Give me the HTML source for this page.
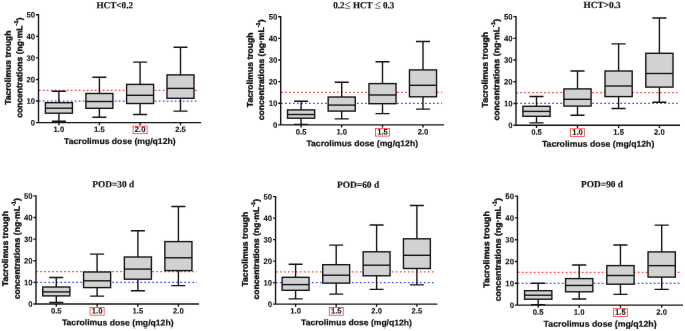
<!DOCTYPE html><html><head><meta charset="utf-8"><title>Tacrolimus trough concentrations</title><style>html,body{margin:0;padding:0;background:#fff}svg{display:block}text{font-family:"Liberation Sans",sans-serif;font-weight:bold;fill:#121212;stroke:#121212;stroke-width:0.22;stroke-linejoin:round}.le{font-weight:normal;font-size:11.5px;stroke-width:0.1}.t{font-family:"Liberation Serif",serif;font-weight:bold;fill:#151515;stroke:#151515;stroke-width:0.18}</style></head><body>
<svg width="685" height="331" viewBox="0 0 685 331">
<defs><filter id="b" x="0" y="0" width="100%" height="100%" color-interpolation-filters="sRGB"><feConvolveMatrix order="3" kernelMatrix="0.0009 0.0278 0.0009 0.0278 0.8855 0.0278 0.0009 0.0278 0.0009" divisor="1" edgeMode="duplicate" preserveAlpha="false"/></filter></defs>
<rect width="685" height="331" fill="#fff"/>
<g filter="url(#b)">
<g><text class="t" transform="rotate(0.03 96.4 8.2)" font-size="9.3" x="96.4" y="8.2" textLength="36.7" lengthAdjust="spacingAndGlyphs">HCT&lt;0.2</text><path d="M38.8 90.26H199" stroke="#ff3c3c" stroke-width="1.25" stroke-dasharray="1.7 2.3"/><path d="M38.8 101.04H199" stroke="#4444ff" stroke-width="1.25" stroke-dasharray="1.7 2.3"/><path d="M51.9 91.3H65.9M58.9 91.3V102.7M58.9 113.2V121.2M51.9 121.2H65.9" stroke="#121212" stroke-width="1.38" fill="none"/><rect x="45.4" y="102.7" width="27" height="10.5" fill="#d2d2d2" stroke="#121212" stroke-width="1.38"/><path d="M45.4 108.2H72.4" stroke="#121212" stroke-width="1.38"/><path d="M92.4 77.3H106.4M99.4 77.3V93.5M99.4 108.3V117.3M92.4 117.3H106.4" stroke="#121212" stroke-width="1.38" fill="none"/><rect x="85.9" y="93.5" width="27" height="14.8" fill="#d2d2d2" stroke="#121212" stroke-width="1.38"/><path d="M85.9 101.5H112.9" stroke="#121212" stroke-width="1.38"/><path d="M133.1 62.1H147.1M140.1 62.1V84.4M140.1 103.5V114.5M133.1 114.5H147.1" stroke="#121212" stroke-width="1.38" fill="none"/><rect x="126.6" y="84.4" width="27" height="19.1" fill="#d2d2d2" stroke="#121212" stroke-width="1.38"/><path d="M126.6 95.3H153.6" stroke="#121212" stroke-width="1.38"/><path d="M173.5 47.2H187.5M180.5 47.2V74.9M180.5 98.3V111.1M173.5 111.1H187.5" stroke="#121212" stroke-width="1.38" fill="none"/><rect x="167" y="74.9" width="27" height="23.4" fill="#d2d2d2" stroke="#121212" stroke-width="1.38"/><path d="M167 88.4H194" stroke="#121212" stroke-width="1.38"/><path d="M38.5 14.11V122.6H201.2M36 122.6H38.5M36 101.04H38.5M36 79.48H38.5M36 57.92H38.5M36 36.36H38.5M36 14.8H38.5M58.9 122.6V125.3M99.4 122.6V125.3M140.1 122.6V125.3M180.5 122.6V125.3" stroke="#121212" stroke-width="1.38" fill="none"/><text transform="rotate(0.03 30.8 125.4)" style="stroke-width:0.1" font-size="7.8" x="30.8" y="125.4" textLength="4.3" lengthAdjust="spacingAndGlyphs">0</text><text transform="rotate(0.03 26.5 103.84)" style="stroke-width:0.1" font-size="7.8" x="26.5" y="103.84" textLength="8.6" lengthAdjust="spacingAndGlyphs">10</text><text transform="rotate(0.03 26.5 82.28)" style="stroke-width:0.1" font-size="7.8" x="26.5" y="82.28" textLength="8.6" lengthAdjust="spacingAndGlyphs">20</text><text transform="rotate(0.03 26.5 60.72)" style="stroke-width:0.1" font-size="7.8" x="26.5" y="60.72" textLength="8.6" lengthAdjust="spacingAndGlyphs">30</text><text transform="rotate(0.03 26.5 39.16)" style="stroke-width:0.1" font-size="7.8" x="26.5" y="39.16" textLength="8.6" lengthAdjust="spacingAndGlyphs">40</text><text transform="rotate(0.03 26.5 17.6)" style="stroke-width:0.1" font-size="7.8" x="26.5" y="17.6" textLength="8.6" lengthAdjust="spacingAndGlyphs">50</text><text transform="rotate(0.03 53.6 132.1)" style="stroke-width:0.1" font-size="7.8" x="53.6" y="132.1" textLength="10.6" lengthAdjust="spacingAndGlyphs">1.0</text><text transform="rotate(0.03 94.1 132.1)" style="stroke-width:0.1" font-size="7.8" x="94.1" y="132.1" textLength="10.6" lengthAdjust="spacingAndGlyphs">1.5</text><text transform="rotate(0.03 134.8 132.1)" style="stroke-width:0.1" font-size="7.8" x="134.8" y="132.1" textLength="10.6" lengthAdjust="spacingAndGlyphs">2.0</text><rect x="133.1" y="126.15" width="14" height="7.6" fill="none" stroke="#ff1818" stroke-width="0.7"/><text transform="rotate(0.03 175.2 132.1)" style="stroke-width:0.1" font-size="7.8" x="175.2" y="132.1" textLength="10.6" lengthAdjust="spacingAndGlyphs">2.5</text><text transform="rotate(0.03 64.1 143.9)" font-size="8.4" x="64.1" y="143.9" textLength="111.5" lengthAdjust="spacingAndGlyphs">Tacrolimus dose (mg/q12h)</text><text style="stroke-width:0.4" font-size="8.3" transform="translate(10.75 104.85) rotate(-89.96)" textLength="74.4" lengthAdjust="spacingAndGlyphs">Tacrolimus trough</text><text style="stroke-width:0.4" font-size="8.3" transform="translate(22.15 117.85) rotate(-89.96)" textLength="100.4" lengthAdjust="spacingAndGlyphs">concentrations (ng·mL<tspan font-size="5.6" dy="-4.2">-1</tspan><tspan dy="4.2">)</tspan></text></g>
<g><text class="t" transform="rotate(0.03 333.3 8.3)" font-size="9.33" x="333.3" y="8.3" textLength="61.1" lengthAdjust="spacingAndGlyphs">0.2<tspan class="le" dy="0.2">≤</tspan><tspan dy="-0.2"> HCT </tspan><tspan class="le" dy="0.2">≤</tspan><tspan dy="-0.2"> 0.3</tspan></text><path d="M281 92.44H441.8" stroke="#ff3c3c" stroke-width="1.25" stroke-dasharray="1.7 2.3"/><path d="M281 103.26H441.8" stroke="#4444ff" stroke-width="1.25" stroke-dasharray="1.7 2.3"/><path d="M294.07 101.3H308.13M301.1 101.3V109.9M301.1 118.2V124.4M294.07 124.4H308.13" stroke="#121212" stroke-width="1.38" fill="none"/><rect x="287.55" y="109.9" width="27.1" height="8.3" fill="#d2d2d2" stroke="#121212" stroke-width="1.38"/><path d="M287.55 114.5H314.65" stroke="#121212" stroke-width="1.38"/><path d="M334.67 82.3H348.73M341.7 82.3V97M341.7 111.1V118.9M334.67 118.9H348.73" stroke="#121212" stroke-width="1.38" fill="none"/><rect x="328.15" y="97" width="27.1" height="14.1" fill="#d2d2d2" stroke="#121212" stroke-width="1.38"/><path d="M328.15 105.1H355.25" stroke="#121212" stroke-width="1.38"/><path d="M375.47 61.8H389.53M382.5 61.8V83.6M382.5 103.7V113.6M375.47 113.6H389.53" stroke="#121212" stroke-width="1.38" fill="none"/><rect x="368.95" y="83.6" width="27.1" height="20.1" fill="#d2d2d2" stroke="#121212" stroke-width="1.38"/><path d="M368.95 95H396.05" stroke="#121212" stroke-width="1.38"/><path d="M415.97 41.5H430.03M423 41.5V69.9M423 96.8V109.1M415.97 109.1H430.03" stroke="#121212" stroke-width="1.38" fill="none"/><rect x="409.45" y="69.9" width="27.1" height="26.9" fill="#d2d2d2" stroke="#121212" stroke-width="1.38"/><path d="M409.45 85.3H436.55" stroke="#121212" stroke-width="1.38"/><path d="M280.7 16.01V124.9H444M278.19 124.9H280.7M278.19 103.26H280.7M278.19 81.62H280.7M278.19 59.98H280.7M278.19 38.34H280.7M278.19 16.7H280.7M301.1 124.9V127.61M341.7 124.9V127.61M382.5 124.9V127.61M423 124.9V127.61" stroke="#121212" stroke-width="1.38" fill="none"/><text transform="rotate(0.03 272.97 127.71)" style="stroke-width:0.1" font-size="7.83" x="272.97" y="127.71" textLength="4.32" lengthAdjust="spacingAndGlyphs">0</text><text transform="rotate(0.03 268.66 106.07)" style="stroke-width:0.1" font-size="7.83" x="268.66" y="106.07" textLength="8.63" lengthAdjust="spacingAndGlyphs">10</text><text transform="rotate(0.03 268.66 84.43)" style="stroke-width:0.1" font-size="7.83" x="268.66" y="84.43" textLength="8.63" lengthAdjust="spacingAndGlyphs">20</text><text transform="rotate(0.03 268.66 62.79)" style="stroke-width:0.1" font-size="7.83" x="268.66" y="62.79" textLength="8.63" lengthAdjust="spacingAndGlyphs">30</text><text transform="rotate(0.03 268.66 41.15)" style="stroke-width:0.1" font-size="7.83" x="268.66" y="41.15" textLength="8.63" lengthAdjust="spacingAndGlyphs">40</text><text transform="rotate(0.03 268.66 19.51)" style="stroke-width:0.1" font-size="7.83" x="268.66" y="19.51" textLength="8.63" lengthAdjust="spacingAndGlyphs">50</text><text transform="rotate(0.03 295.78 134.44)" style="stroke-width:0.1" font-size="7.83" x="295.78" y="134.44" textLength="10.64" lengthAdjust="spacingAndGlyphs">0.5</text><text transform="rotate(0.03 336.38 134.44)" style="stroke-width:0.1" font-size="7.83" x="336.38" y="134.44" textLength="10.64" lengthAdjust="spacingAndGlyphs">1.0</text><text transform="rotate(0.03 377.18 134.44)" style="stroke-width:0.1" font-size="7.83" x="377.18" y="134.44" textLength="10.64" lengthAdjust="spacingAndGlyphs">1.5</text><rect x="375.47" y="128.46" width="14.05" height="7.63" fill="none" stroke="#ff1818" stroke-width="0.7"/><text transform="rotate(0.03 417.68 134.44)" style="stroke-width:0.1" font-size="7.83" x="417.68" y="134.44" textLength="10.64" lengthAdjust="spacingAndGlyphs">2.0</text><text transform="rotate(0.03 306.4 146.28)" font-size="8.43" x="306.4" y="146.28" textLength="111.7" lengthAdjust="spacingAndGlyphs">Tacrolimus dose (mg/q12h)</text><text style="stroke-width:0.4" font-size="8.33" transform="translate(252.75 107.18) rotate(-89.96)" textLength="74.77" lengthAdjust="spacingAndGlyphs">Tacrolimus trough</text><text style="stroke-width:0.4" font-size="8.33" transform="translate(264.05 120.23) rotate(-89.96)" textLength="100.87" lengthAdjust="spacingAndGlyphs">concentrations (ng·mL<tspan font-size="5.62" dy="-4.22">-1</tspan><tspan dy="4.22">)</tspan></text></g>
<g><text class="t" transform="rotate(0.03 583.6 8.1)" font-size="9.37" x="583.6" y="8.1" textLength="37.1" lengthAdjust="spacingAndGlyphs">HCT&gt;0.3</text><path d="M516.3 92.62H677.8" stroke="#ff3c3c" stroke-width="1.25" stroke-dasharray="1.7 2.3"/><path d="M516.3 103.48H677.8" stroke="#4444ff" stroke-width="1.25" stroke-dasharray="1.7 2.3"/><path d="M529.45 96.5H543.55M536.5 96.5V106.3M536.5 116.3V122.9M529.45 122.9H543.55" stroke="#121212" stroke-width="1.38" fill="none"/><rect x="522.9" y="106.3" width="27.2" height="10" fill="#d2d2d2" stroke="#121212" stroke-width="1.38"/><path d="M522.9 111.4H550.1" stroke="#121212" stroke-width="1.38"/><path d="M570.45 71H584.55M577.5 71V88.9M577.5 106.1V115.3M570.45 115.3H584.55" stroke="#121212" stroke-width="1.38" fill="none"/><rect x="563.9" y="88.9" width="27.2" height="17.2" fill="#d2d2d2" stroke="#121212" stroke-width="1.38"/><path d="M563.9 99.3H591.1" stroke="#121212" stroke-width="1.38"/><path d="M611.55 43.9H625.65M618.6 43.9V71M618.6 96.6V108.5M611.55 108.5H625.65" stroke="#121212" stroke-width="1.38" fill="none"/><rect x="605" y="71" width="27.2" height="25.6" fill="#d2d2d2" stroke="#121212" stroke-width="1.38"/><path d="M605 86H632.2" stroke="#121212" stroke-width="1.38"/><path d="M652.35 18H666.45M659.4 18V53.3M659.4 87.1V102.3M652.35 102.3H666.45" stroke="#121212" stroke-width="1.38" fill="none"/><rect x="645.8" y="53.3" width="27.2" height="33.8" fill="#d2d2d2" stroke="#121212" stroke-width="1.38"/><path d="M645.8 73.5H673" stroke="#121212" stroke-width="1.38"/><path d="M516 15.91V125.2H680M513.48 125.2H516M513.48 103.48H516M513.48 81.76H516M513.48 60.04H516M513.48 38.32H516M513.48 16.6H516M536.5 125.2V127.92M577.5 125.2V127.92M618.6 125.2V127.92M659.4 125.2V127.92" stroke="#121212" stroke-width="1.38" fill="none"/><text transform="rotate(0.03 508.24 128.02)" style="stroke-width:0.1" font-size="7.86" x="508.24" y="128.02" textLength="4.33" lengthAdjust="spacingAndGlyphs">0</text><text transform="rotate(0.03 503.91 106.3)" style="stroke-width:0.1" font-size="7.86" x="503.91" y="106.3" textLength="8.66" lengthAdjust="spacingAndGlyphs">10</text><text transform="rotate(0.03 503.91 84.58)" style="stroke-width:0.1" font-size="7.86" x="503.91" y="84.58" textLength="8.66" lengthAdjust="spacingAndGlyphs">20</text><text transform="rotate(0.03 503.91 62.86)" style="stroke-width:0.1" font-size="7.86" x="503.91" y="62.86" textLength="8.66" lengthAdjust="spacingAndGlyphs">30</text><text transform="rotate(0.03 503.91 41.14)" style="stroke-width:0.1" font-size="7.86" x="503.91" y="41.14" textLength="8.66" lengthAdjust="spacingAndGlyphs">40</text><text transform="rotate(0.03 503.91 19.42)" style="stroke-width:0.1" font-size="7.86" x="503.91" y="19.42" textLength="8.66" lengthAdjust="spacingAndGlyphs">50</text><text transform="rotate(0.03 531.16 134.77)" style="stroke-width:0.1" font-size="7.86" x="531.16" y="134.77" textLength="10.68" lengthAdjust="spacingAndGlyphs">0.5</text><text transform="rotate(0.03 572.16 134.77)" style="stroke-width:0.1" font-size="7.86" x="572.16" y="134.77" textLength="10.68" lengthAdjust="spacingAndGlyphs">1.0</text><rect x="570.45" y="128.78" width="14.1" height="7.66" fill="none" stroke="#ff1818" stroke-width="0.7"/><text transform="rotate(0.03 613.26 134.77)" style="stroke-width:0.1" font-size="7.86" x="613.26" y="134.77" textLength="10.68" lengthAdjust="spacingAndGlyphs">1.5</text><text transform="rotate(0.03 654.06 134.77)" style="stroke-width:0.1" font-size="7.86" x="654.06" y="134.77" textLength="10.68" lengthAdjust="spacingAndGlyphs">2.0</text><text transform="rotate(0.03 541.9 146.66)" font-size="8.46" x="541.9" y="146.66" textLength="112.45" lengthAdjust="spacingAndGlyphs">Tacrolimus dose (mg/q12h)</text><text style="stroke-width:0.4" font-size="8.36" transform="translate(487.75 107.42) rotate(-89.96)" textLength="75.45" lengthAdjust="spacingAndGlyphs">Tacrolimus trough</text><text style="stroke-width:0.4" font-size="8.36" transform="translate(499.15 120.51) rotate(-89.96)" textLength="101.64" lengthAdjust="spacingAndGlyphs">concentrations (ng·mL<tspan font-size="5.64" dy="-4.23">-1</tspan><tspan dy="4.23">)</tspan></text></g>
<g><text class="t" transform="rotate(0.03 92.3 187.15)" font-size="9.33" x="92.3" y="187.15" textLength="41.9" lengthAdjust="spacingAndGlyphs">POD=30 d</text><path d="M36.3 271.57H196.8" stroke="#ff3c3c" stroke-width="1.25" stroke-dasharray="1.7 2.3"/><path d="M36.3 282.38H196.8" stroke="#4444ff" stroke-width="1.25" stroke-dasharray="1.7 2.3"/><path d="M49.28 277.5H63.32M56.3 277.5V287M56.3 295.9V302.5M49.28 302.5H63.32" stroke="#121212" stroke-width="1.38" fill="none"/><rect x="42.76" y="287" width="27.08" height="8.9" fill="#d2d2d2" stroke="#121212" stroke-width="1.38"/><path d="M42.76 291.9H69.84" stroke="#121212" stroke-width="1.38"/><path d="M90.08 254.1H104.12M97.1 254.1V272M97.1 287.6V296.1M90.08 296.1H104.12" stroke="#121212" stroke-width="1.38" fill="none"/><rect x="83.56" y="272" width="27.08" height="15.6" fill="#d2d2d2" stroke="#121212" stroke-width="1.38"/><path d="M83.56 280.8H110.64" stroke="#121212" stroke-width="1.38"/><path d="M130.88 230.8H144.92M137.9 230.8V257M137.9 279.2V290.8M130.88 290.8H144.92" stroke="#121212" stroke-width="1.38" fill="none"/><rect x="124.36" y="257" width="27.08" height="22.2" fill="#d2d2d2" stroke="#121212" stroke-width="1.38"/><path d="M124.36 269.1H151.44" stroke="#121212" stroke-width="1.38"/><path d="M171.38 206.5H185.42M178.4 206.5V241.6M178.4 270.6V285.6M171.38 285.6H185.42" stroke="#121212" stroke-width="1.38" fill="none"/><rect x="164.86" y="241.6" width="27.08" height="29" fill="#d2d2d2" stroke="#121212" stroke-width="1.38"/><path d="M164.86 257.8H191.94" stroke="#121212" stroke-width="1.38"/><path d="M36 195.21V304H199M33.49 304H36M33.49 282.38H36M33.49 260.76H36M33.49 239.14H36M33.49 217.52H36M33.49 195.9H36M56.3 304V306.71M97.1 304V306.71M137.9 304V306.71M178.4 304V306.71" stroke="#121212" stroke-width="1.38" fill="none"/><text transform="rotate(0.03 28.28 306.81)" style="stroke-width:0.1" font-size="7.82" x="28.28" y="306.81" textLength="4.31" lengthAdjust="spacingAndGlyphs">0</text><text transform="rotate(0.03 23.97 285.19)" style="stroke-width:0.1" font-size="7.82" x="23.97" y="285.19" textLength="8.62" lengthAdjust="spacingAndGlyphs">10</text><text transform="rotate(0.03 23.97 263.57)" style="stroke-width:0.1" font-size="7.82" x="23.97" y="263.57" textLength="8.62" lengthAdjust="spacingAndGlyphs">20</text><text transform="rotate(0.03 23.97 241.95)" style="stroke-width:0.1" font-size="7.82" x="23.97" y="241.95" textLength="8.62" lengthAdjust="spacingAndGlyphs">30</text><text transform="rotate(0.03 23.97 220.33)" style="stroke-width:0.1" font-size="7.82" x="23.97" y="220.33" textLength="8.62" lengthAdjust="spacingAndGlyphs">40</text><text transform="rotate(0.03 23.97 198.71)" style="stroke-width:0.1" font-size="7.82" x="23.97" y="198.71" textLength="8.62" lengthAdjust="spacingAndGlyphs">50</text><text transform="rotate(0.03 50.99 313.53)" style="stroke-width:0.1" font-size="7.82" x="50.99" y="313.53" textLength="10.63" lengthAdjust="spacingAndGlyphs">0.5</text><text transform="rotate(0.03 91.79 313.53)" style="stroke-width:0.1" font-size="7.82" x="91.79" y="313.53" textLength="10.63" lengthAdjust="spacingAndGlyphs">1.0</text><rect x="90.08" y="307.56" width="14.04" height="7.62" fill="none" stroke="#ff1818" stroke-width="0.7"/><text transform="rotate(0.03 132.59 313.53)" style="stroke-width:0.1" font-size="7.82" x="132.59" y="313.53" textLength="10.63" lengthAdjust="spacingAndGlyphs">1.5</text><text transform="rotate(0.03 173.09 313.53)" style="stroke-width:0.1" font-size="7.82" x="173.09" y="313.53" textLength="10.63" lengthAdjust="spacingAndGlyphs">2.0</text><text transform="rotate(0.03 61.9 325.36)" font-size="8.42" x="61.9" y="325.36" textLength="111.7" lengthAdjust="spacingAndGlyphs">Tacrolimus dose (mg/q12h)</text><text style="stroke-width:0.4" font-size="8.32" transform="translate(7.95 286.2) rotate(-89.96)" textLength="75.11" lengthAdjust="spacingAndGlyphs">Tacrolimus trough</text><text style="stroke-width:0.4" font-size="8.32" transform="translate(19.65 299.24) rotate(-89.96)" textLength="101.18" lengthAdjust="spacingAndGlyphs">concentrations (ng·mL<tspan font-size="5.62" dy="-4.21">-1</tspan><tspan dy="4.21">)</tspan></text></g>
<g><text class="t" transform="rotate(0.03 336.9 187.8)" font-size="9.27" x="336.9" y="187.8" textLength="42.3" lengthAdjust="spacingAndGlyphs">POD=60 d</text><path d="M275.85 271.85H435.2" stroke="#ff3c3c" stroke-width="1.25" stroke-dasharray="1.7 2.3"/><path d="M275.85 282.6H435.2" stroke="#4444ff" stroke-width="1.25" stroke-dasharray="1.7 2.3"/><path d="M288.62 264.2H302.58M295.6 264.2V277.3M295.6 290.3V298.9M288.62 298.9H302.58" stroke="#121212" stroke-width="1.38" fill="none"/><rect x="282.14" y="277.3" width="26.92" height="13" fill="#d2d2d2" stroke="#121212" stroke-width="1.38"/><path d="M282.14 284.6H309.06" stroke="#121212" stroke-width="1.38"/><path d="M329.22 245.1H343.18M336.2 245.1V264.7M336.2 283.1V294.1M329.22 294.1H343.18" stroke="#121212" stroke-width="1.38" fill="none"/><rect x="322.74" y="264.7" width="26.92" height="18.4" fill="#d2d2d2" stroke="#121212" stroke-width="1.38"/><path d="M322.74 275.2H349.66" stroke="#121212" stroke-width="1.38"/><path d="M369.62 225H383.58M376.6 225V251.8M376.6 275.8V289.4M369.62 289.4H383.58" stroke="#121212" stroke-width="1.38" fill="none"/><rect x="363.14" y="251.8" width="26.92" height="24" fill="#d2d2d2" stroke="#121212" stroke-width="1.38"/><path d="M363.14 265.2H390.06" stroke="#121212" stroke-width="1.38"/><path d="M409.92 205.5H423.88M416.9 205.5V238.8M416.9 268.5V284.9M409.92 284.9H423.88" stroke="#121212" stroke-width="1.38" fill="none"/><rect x="403.44" y="238.8" width="26.92" height="29.7" fill="#d2d2d2" stroke="#121212" stroke-width="1.38"/><path d="M403.44 255.3H430.36" stroke="#121212" stroke-width="1.38"/><path d="M275.55 195.91V304.1H437.4M273.06 304.1H275.55M273.06 282.6H275.55M273.06 261.1H275.55M273.06 239.6H275.55M273.06 218.1H275.55M273.06 196.6H275.55M295.6 304.1V306.79M336.2 304.1V306.79M376.6 304.1V306.79M416.9 304.1V306.79" stroke="#121212" stroke-width="1.38" fill="none"/><text transform="rotate(0.03 267.87 306.89)" style="stroke-width:0.1" font-size="7.78" x="267.87" y="306.89" textLength="4.29" lengthAdjust="spacingAndGlyphs">0</text><text transform="rotate(0.03 263.58 285.39)" style="stroke-width:0.1" font-size="7.78" x="263.58" y="285.39" textLength="8.58" lengthAdjust="spacingAndGlyphs">10</text><text transform="rotate(0.03 263.58 263.89)" style="stroke-width:0.1" font-size="7.78" x="263.58" y="263.89" textLength="8.58" lengthAdjust="spacingAndGlyphs">20</text><text transform="rotate(0.03 263.58 242.39)" style="stroke-width:0.1" font-size="7.78" x="263.58" y="242.39" textLength="8.58" lengthAdjust="spacingAndGlyphs">30</text><text transform="rotate(0.03 263.58 220.89)" style="stroke-width:0.1" font-size="7.78" x="263.58" y="220.89" textLength="8.58" lengthAdjust="spacingAndGlyphs">40</text><text transform="rotate(0.03 263.58 199.39)" style="stroke-width:0.1" font-size="7.78" x="263.58" y="199.39" textLength="8.58" lengthAdjust="spacingAndGlyphs">50</text><text transform="rotate(0.03 290.31 313.57)" style="stroke-width:0.1" font-size="7.78" x="290.31" y="313.57" textLength="10.57" lengthAdjust="spacingAndGlyphs">1.0</text><text transform="rotate(0.03 330.91 313.57)" style="stroke-width:0.1" font-size="7.78" x="330.91" y="313.57" textLength="10.57" lengthAdjust="spacingAndGlyphs">1.5</text><rect x="329.22" y="307.64" width="13.96" height="7.58" fill="none" stroke="#ff1818" stroke-width="0.7"/><text transform="rotate(0.03 371.31 313.57)" style="stroke-width:0.1" font-size="7.78" x="371.31" y="313.57" textLength="10.57" lengthAdjust="spacingAndGlyphs">2.0</text><text transform="rotate(0.03 411.61 313.57)" style="stroke-width:0.1" font-size="7.78" x="411.61" y="313.57" textLength="10.57" lengthAdjust="spacingAndGlyphs">2.5</text><text transform="rotate(0.03 301.1 325.34)" font-size="8.38" x="301.1" y="325.34" textLength="110.75" lengthAdjust="spacingAndGlyphs">Tacrolimus dose (mg/q12h)</text><text style="stroke-width:0.4" font-size="8.28" transform="translate(247.75 286.5) rotate(-89.96)" textLength="74.69" lengthAdjust="spacingAndGlyphs">Tacrolimus trough</text><text style="stroke-width:0.4" font-size="8.28" transform="translate(259.05 299.46) rotate(-89.96)" textLength="100.62" lengthAdjust="spacingAndGlyphs">concentrations (ng·mL<tspan font-size="5.58" dy="-4.19">-1</tspan><tspan dy="4.19">)</tspan></text></g>
<g><text class="t" transform="rotate(0.03 581.1 187.15)" font-size="9.4" x="581.1" y="187.15" textLength="41.95" lengthAdjust="spacingAndGlyphs">POD=90 d</text><path d="M517.75 272.4H680.3" stroke="#ff3c3c" stroke-width="1.25" stroke-dasharray="1.7 2.3"/><path d="M517.75 283.3H680.3" stroke="#4444ff" stroke-width="1.25" stroke-dasharray="1.7 2.3"/><path d="M531.12 283.3H545.28M538.2 283.3V290.7M538.2 299.2V304.6M531.12 304.6H545.28" stroke="#121212" stroke-width="1.38" fill="none"/><rect x="524.55" y="290.7" width="27.3" height="8.5" fill="#d2d2d2" stroke="#121212" stroke-width="1.38"/><path d="M524.55 295.2H551.85" stroke="#121212" stroke-width="1.38"/><path d="M572.12 265H586.28M579.2 265V278.6M579.2 291.8V299M572.12 299H586.28" stroke="#121212" stroke-width="1.38" fill="none"/><rect x="565.55" y="278.6" width="27.3" height="13.2" fill="#d2d2d2" stroke="#121212" stroke-width="1.38"/><path d="M565.55 285.45H592.85" stroke="#121212" stroke-width="1.38"/><path d="M613.37 245H627.53M620.45 245V265.6M620.45 284.2V294.4M613.37 294.4H627.53" stroke="#121212" stroke-width="1.38" fill="none"/><rect x="606.8" y="265.6" width="27.3" height="18.6" fill="#d2d2d2" stroke="#121212" stroke-width="1.38"/><path d="M606.8 275.5H634.1" stroke="#121212" stroke-width="1.38"/><path d="M654.62 225.1H668.78M661.7 225.1V251.9M661.7 277.1V289.4M654.62 289.4H668.78" stroke="#121212" stroke-width="1.38" fill="none"/><rect x="648.05" y="251.9" width="27.3" height="25.2" fill="#d2d2d2" stroke="#121212" stroke-width="1.38"/><path d="M648.05 265.65H675.35" stroke="#121212" stroke-width="1.38"/><path d="M517.45 195.41V305.1H682.5M514.92 305.1H517.45M514.92 283.3H517.45M514.92 261.5H517.45M514.92 239.7H517.45M514.92 217.9H517.45M514.92 196.1H517.45M538.2 305.1V307.83M579.2 305.1V307.83M620.45 305.1V307.83M661.7 305.1V307.83" stroke="#121212" stroke-width="1.38" fill="none"/><text transform="rotate(0.03 509.66 307.93)" style="stroke-width:0.1" font-size="7.89" x="509.66" y="307.93" textLength="4.35" lengthAdjust="spacingAndGlyphs">0</text><text transform="rotate(0.03 505.32 286.13)" style="stroke-width:0.1" font-size="7.89" x="505.32" y="286.13" textLength="8.7" lengthAdjust="spacingAndGlyphs">10</text><text transform="rotate(0.03 505.32 264.33)" style="stroke-width:0.1" font-size="7.89" x="505.32" y="264.33" textLength="8.7" lengthAdjust="spacingAndGlyphs">20</text><text transform="rotate(0.03 505.32 242.53)" style="stroke-width:0.1" font-size="7.89" x="505.32" y="242.53" textLength="8.7" lengthAdjust="spacingAndGlyphs">30</text><text transform="rotate(0.03 505.32 220.73)" style="stroke-width:0.1" font-size="7.89" x="505.32" y="220.73" textLength="8.7" lengthAdjust="spacingAndGlyphs">40</text><text transform="rotate(0.03 505.32 198.93)" style="stroke-width:0.1" font-size="7.89" x="505.32" y="198.93" textLength="8.7" lengthAdjust="spacingAndGlyphs">50</text><text transform="rotate(0.03 532.84 314.71)" style="stroke-width:0.1" font-size="7.89" x="532.84" y="314.71" textLength="10.72" lengthAdjust="spacingAndGlyphs">0.5</text><text transform="rotate(0.03 573.84 314.71)" style="stroke-width:0.1" font-size="7.89" x="573.84" y="314.71" textLength="10.72" lengthAdjust="spacingAndGlyphs">1.0</text><text transform="rotate(0.03 615.09 314.71)" style="stroke-width:0.1" font-size="7.89" x="615.09" y="314.71" textLength="10.72" lengthAdjust="spacingAndGlyphs">1.5</text><rect x="613.37" y="308.69" width="14.16" height="7.68" fill="none" stroke="#ff1818" stroke-width="0.7"/><text transform="rotate(0.03 656.34 314.71)" style="stroke-width:0.1" font-size="7.89" x="656.34" y="314.71" textLength="10.72" lengthAdjust="spacingAndGlyphs">2.0</text><text transform="rotate(0.03 543.6 326.64)" font-size="8.49" x="543.6" y="326.64" textLength="113" lengthAdjust="spacingAndGlyphs">Tacrolimus dose (mg/q12h)</text><text style="stroke-width:0.4" font-size="8.39" transform="translate(489.3 287.7) rotate(-89.96)" textLength="76.57" lengthAdjust="spacingAndGlyphs">Tacrolimus trough</text><text style="stroke-width:0.4" font-size="8.39" transform="translate(500.75 301.29) rotate(-89.96)" textLength="103.31" lengthAdjust="spacingAndGlyphs">concentrations (ng·mL<tspan font-size="5.66" dy="-4.25">-1</tspan><tspan dy="4.25">)</tspan></text></g>
</g></svg></body></html>
